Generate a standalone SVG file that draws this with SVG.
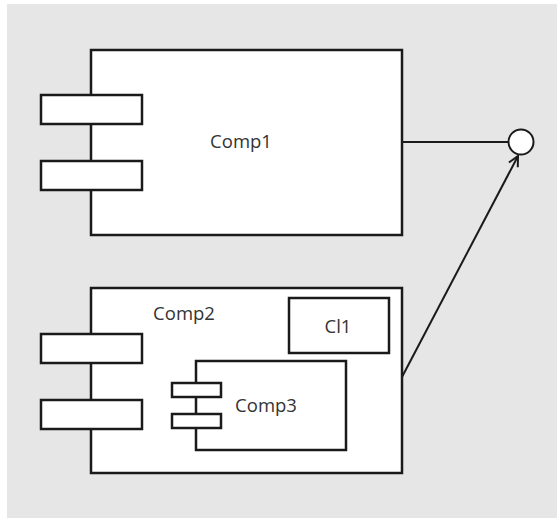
<svg xmlns="http://www.w3.org/2000/svg" width="557" height="518" viewBox="0 0 557 518">
<style>
.box{fill:#fff;stroke:#1a1a1a;stroke-width:2.5}
.lbl{font-family:"Open Sans","Noto Sans",sans-serif;font-size:18.5px;fill:#333}
.conn{fill:none;stroke:#1a1a1a;stroke-width:2}
</style>
<defs>
<marker id="arr" viewBox="0 0 12 12" refX="11" refY="6" markerWidth="12" markerHeight="12" markerUnits="userSpaceOnUse" orient="auto">
<path d="M1,1 L11,6 L1,11" fill="none" stroke="#1a1a1a" stroke-width="2"/>
</marker>
</defs>
<rect x="0" y="0" width="557" height="518" fill="#fff"/>
<rect x="7" y="4" width="550" height="514" fill="#e6e6e6"/>
<g id="comp1">
<rect class="box" x="91" y="50" width="311" height="185"/>
<rect class="box" x="41" y="95" width="101" height="29"/>
<rect class="box" x="41" y="161" width="101" height="29"/>
<text class="lbl" x="241" y="148" text-anchor="middle">Comp1</text>
</g>
<g id="comp2">
<rect class="box" x="91" y="288" width="311" height="185"/>
<rect class="box" x="41" y="334" width="101" height="29"/>
<rect class="box" x="41" y="400" width="101" height="29"/>
<text class="lbl" x="184" y="320" text-anchor="middle">Comp2</text>
</g>
<g id="cl1">
<rect class="box" x="289" y="298" width="100" height="55"/>
<text class="lbl" x="338" y="333" text-anchor="middle">Cl1</text>
</g>
<g id="comp3">
<rect class="box" x="196" y="361" width="150" height="89"/>
<rect class="box" x="172" y="383" width="49" height="14"/>
<rect class="box" x="172" y="414" width="49" height="14"/>
<text class="lbl" x="266" y="412" text-anchor="middle">Comp3</text>
</g>
<g id="interface">
<circle cx="521" cy="142" r="12.5" fill="#fff" stroke="#1a1a1a" stroke-width="2"/>
</g>
<g id="connectors">
<line class="conn" x1="402" y1="142" x2="508.5" y2="142"/>
<line class="conn" x1="402" y1="377" x2="518" y2="156" marker-end="url(#arr)"/>
</g>
</svg>
